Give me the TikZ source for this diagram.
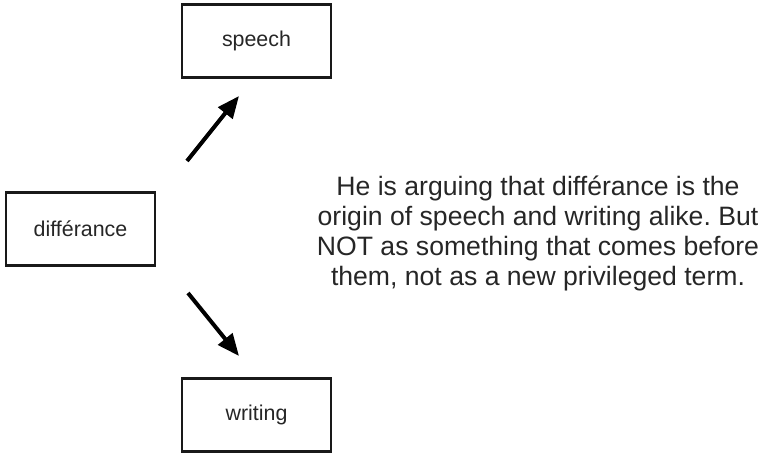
\documentclass[tikz,border=0pt]{standalone}
\usepackage{fontspec}
\setmainfont{Liberation Sans}
\usetikzlibrary{arrows.meta}
\begin{document}
\frenchspacing
\begin{tikzpicture}[x=1pt,y=-1pt,
  box/.style={draw=black!90,line width=2.2pt,minimum width=149pt,minimum height=73pt,inner sep=0pt,font=\fontsize{21.4}{26}\selectfont,text=black!85},
  arr/.style={line width=4pt,-{Triangle[length=22pt,width=18pt]}}]
\useasboundingbox (0,0) rectangle (762,454);
\node[box] (speech) at (256.5,41) {speech};
\node[box] (diff) at (80.5,229) {différance};
\node[box] (writing) at (256.5,415) {writing};
\coordinate (a1) at (187,161);
\coordinate (a1t) at (239,96);
\coordinate (a2) at (188,293);
\coordinate (a2t) at (239,356);
\draw[arr] (a1) -- (a1t);
\draw[arr] (a2) -- (a2t);
\node[align=center,font=\fontsize{26.6}{30}\selectfont,text=black!85,inner sep=0pt] (txt) at (538,233)
  {He is arguing that différance is the\\origin of speech and writing alike. But\\NOT as something that comes before\\them, not as a new privileged term.};
\end{tikzpicture}
\end{document}
